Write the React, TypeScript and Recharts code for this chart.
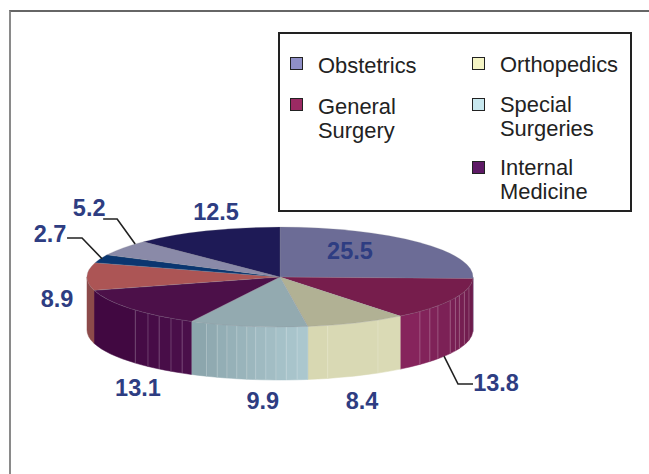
import React from "react";
import { PieChart, Pie, Legend } from "recharts";

const categories = ["Obstetrics", "General Surgery", "Orthopedics", "Special Surgeries", "Internal Medicine", "Other A", "Other B", "Other C", "Other D"];
const values = [25.5, 13.8, 8.4, 9.9, 13.1, 8.9, 2.7, 5.2, 12.5];
const topColors = ["#6c6c96", "#761d4c", "#b1b194", "#93aab0", "#4c1049", "#ac5555", "#0a3670", "#8a8aa8", "#1e1a56"];
const wallFrom = ["#6c6c96", "#6a1a4a", "#dadab6", "#adc9d0", "#4a0f4a", "#8c4a4a", "#0a3670", "#8a8aa8", "#1e1a56"];
const wallTo = ["#6c6c96", "#88255e", "#d8d8b2", "#89a3aa", "#3e063e", "#8c4a4a", "#0a3670", "#8a8aa8", "#1e1a56"];
const wallSeams: number[][] = [
  [],
  [0.2, 0.31, 0.4, 0.46, 0.53, 0.67, 0.75, 0.84],
  [0.265, 0.8],
  [0.09, 0.18, 0.266, 0.35, 0.435, 0.51, 0.595, 0.68, 0.765, 0.86],
  [0.066, 0.149, 0.242, 0.335, 0.45],
  [], [], [], [],
];

// label offset from the rim midpoint of each slice
const labelOffsets = [
  [-68.6, 8.8], [43.5, 83.6], [5.4, 78], [14.8, 74.7], [7.8, 79.5], [-30, 22.4], [-50.3, -24.8], [-34, -39.9], [9.9, -18.8],
];
const leaders: Record<number, number[][]> = {
  1: [[-8.5, 56.6], [5.5, 84.6], [20.5, 84.6]],
  6: [[-33.3, -20.8], [-18.3, -20.8], [1.7, 0]],
  7: [[-20, -28.9], [-6, -28.9], [12, -3.9]],
};

const legendColumns = [
  [
    { lines: ["Obstetrics"], color: "#9090c8", swatchY: 25, textY: 34 },
    { lines: ["General", "Surgery"], color: "#9b2a63", swatchY: 66, textY: 75 },
  ],
  [
    { lines: ["Orthopedics"], color: "#f5f5c5", swatchY: 25, textY: 33 },
    { lines: ["Special", "Surgeries"], color: "#c8e8ef", swatchY: 66, textY: 73 },
    { lines: ["Internal", "Medicine"], color: "#5e1a66", swatchY: 129, textY: 136 },
  ],
];
const legendColumnX = [12, 194];

const rows = categories.map((name, i) => ({
  name,
  value: values[i],
  fill: topColors[i],
  slot: i,
}));

const FONT = "'Liberation Sans', Arial, sans-serif";
const SQUASH = 50 / 193;
const DEPTH = 53;
const rad = (d: number) => (d * Math.PI) / 180;

function mix(a: string, b: string, t: number) {
  const p = (s: string, i: number) => parseInt(s.slice(i, i + 2), 16);
  const c = [1, 3, 5].map((i) => Math.round(p(a, i) + (p(b, i) - p(a, i)) * t));
  return `rgb(${c[0]},${c[1]},${c[2]})`;
}

function SliceShape(props: any) {
  const { cx, cy, outerRadius: rx, startAngle, endAngle, fill, slot } = props;
  const ry = rx * SQUASH;
  const a = 90 - startAngle;
  const b = 90 - endAngle;
  const pt = (t: number, dy = 0): [number, number] => [cx + rx * Math.sin(rad(t)), cy - ry * Math.cos(rad(t)) + dy];
  const [x1, y1] = pt(a);
  const [x2, y2] = pt(b);
  const large = b - a > 180 ? 1 : 0;
  const top = `M${cx},${cy}L${x1},${y1}A${rx},${ry} 0 ${large} 1 ${x2},${y2}Z`;

  const wa = Math.max(a, 90);
  const wb = Math.min(b, 270);
  const strips: React.ReactNode[] = [];
  if (wb > wa) {
    const seams = wallSeams[slot] || [];
    const stops = [0, ...seams, 1];
    for (let i = 0; i < stops.length - 1; i++) {
      const s = wa + (wb - wa) * stops[i];
      const e = wa + (wb - wa) * stops[i + 1];
      const [sx, sy] = pt(s);
      const [ex, ey] = pt(e);
      const color = mix(wallFrom[slot], wallTo[slot], (stops[i] + stops[i + 1]) / 2);
      const d = `M${sx},${sy}A${rx},${ry} 0 0 1 ${ex},${ey}L${ex},${ey + DEPTH}A${rx},${ry} 0 0 0 ${sx},${sy + DEPTH}Z`;
      strips.push(<path key={i} d={d} fill={color} stroke={color} strokeWidth={0.5} />);
      if (i > 0) {
        strips.push(
          <line key={`s${i}`} x1={sx} y1={sy} x2={sx} y2={sy + DEPTH} stroke="#ffffff" strokeOpacity={0.22} strokeWidth={1} />
        );
      }
    }
  }
  return (
    <g>
      {strips}
      <path d={top} fill={fill} stroke="#8d8d96" strokeOpacity={0.45} strokeWidth={0.5} />
    </g>
  );
}

function SliceLabel(props: any) {
  const { cx, cy, outerRadius: rx, midAngle, index, value } = props;
  const t = rad(90 - midAngle);
  const mx = cx + rx * Math.sin(t);
  const my = cy - rx * SQUASH * Math.cos(t);
  const [dx, dy] = labelOffsets[index];
  const leader = leaders[index];
  return (
    <g>
      {leader && (
        <polyline
          points={leader.map(([lx, ly]) => `${mx + lx},${my + ly}`).join(" ")}
          fill="none"
          stroke="#222"
          strokeWidth={1.6}
        />
      )}
      <text
        x={mx + dx}
        y={my + dy}
        textAnchor="middle"
        dominantBaseline="central"
        fontFamily={FONT}
        fontWeight={700}
        fontSize={23.5}
        fill="#2e3d82"
      >
        {value}
      </text>
    </g>
  );
}

function LegendBox() {
  return (
    <div
      style={{
        position: "relative",
        width: 350,
        height: 176,
        border: "2px solid #222",
        background: "#fff",
        fontFamily: FONT,
        fontSize: 21.9,
        color: "#222",
      }}
    >
      {legendColumns.map((col, c) =>
        col.map((item) => (
          <React.Fragment key={item.lines[0]}>
            <div
              style={{
                position: "absolute",
                left: legendColumnX[c] - 2,
                top: item.swatchY - 2,
                width: 11,
                height: 11,
                background: item.color,
                border: "1.5px solid #222",
              }}
            />
            {item.lines.map((line, j) => (
              <div
                key={line}
                style={{
                  position: "absolute",
                  left: legendColumnX[c] + 26,
                  top: item.textY - 2 + j * 24 - 12,
                  lineHeight: "24px",
                  whiteSpace: "nowrap",
                }}
              >
                {line}
              </div>
            ))}
          </React.Fragment>
        ))
      )}
    </div>
  );
}

export default function App() {
  return (
    <div style={{ position: "fixed", left: 0, top: 0, width: 649, height: 474, background: "#fff", overflow: "hidden" }}>
      <div
        style={{
          position: "absolute",
          left: 9,
          top: 10,
          width: 640,
          height: 464,
          borderLeft: "2px solid #8a8a8a",
          borderTop: "2px solid #666",
        }}
      />
      <PieChart width={649} height={474} margin={{ top: 0, right: 0, bottom: 0, left: 0 }}>
        <Legend
          content={() => <LegendBox />}
          wrapperStyle={{ position: "absolute", left: 278, top: 32, width: 354, height: 180, bottom: "auto" }}
        />
        <Pie
          data={rows}
          dataKey="value"
          nameKey="name"
          cx={280}
          cy={277}
          outerRadius={193}
          startAngle={90}
          endAngle={-270}
          stroke="none"
          shape={SliceShape}
          label={SliceLabel}
          labelLine={false}
          isAnimationActive={false}
        />
      </PieChart>
    </div>
  );
}
